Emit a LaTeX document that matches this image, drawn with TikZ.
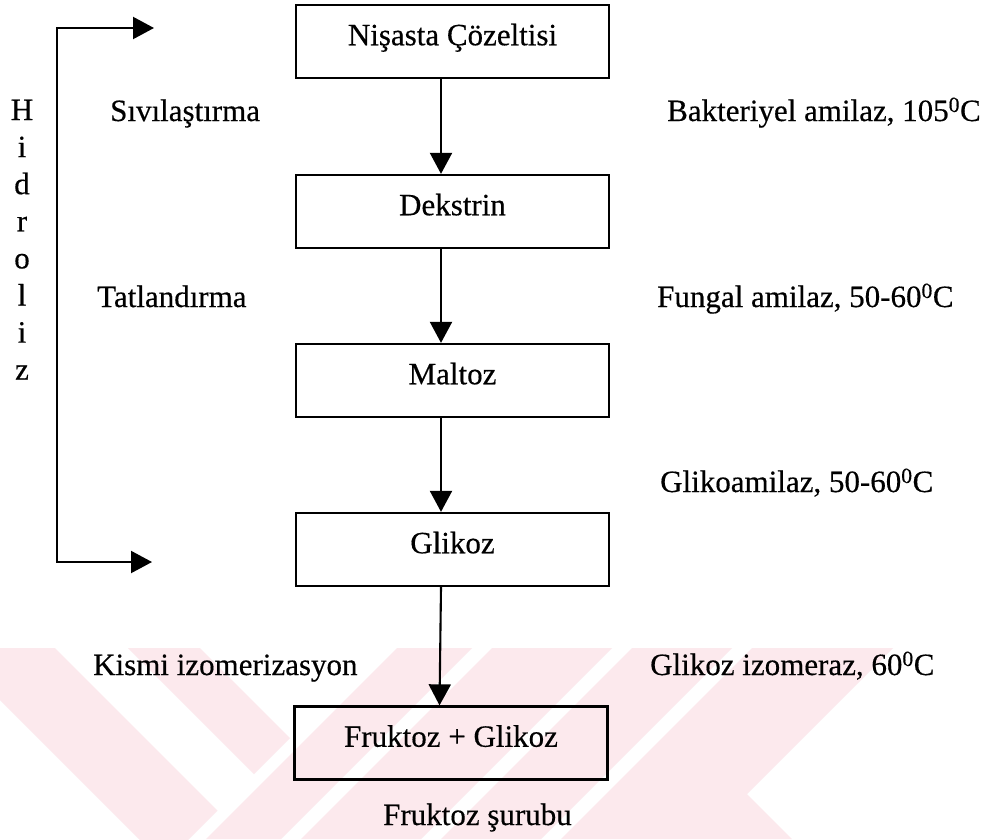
\documentclass[tikz,border=0pt]{standalone}
\usepackage{fontspec}
\setmainfont{Liberation Serif}[FakeBold=0.4]
\usetikzlibrary{arrows.meta}
\definecolor{wmpink}{RGB}{252,233,237}
\tikzset{
  stepbox/.style={draw, line width=2.3pt, minimum width=313pt, minimum height=73pt,
    inner sep=0pt, text height=20pt, text depth=12.5pt},
  flow/.style={line width=2.1pt, -{Triangle[length=21pt,width=22pt]}},
  lbl/.style={anchor=base west, inner sep=0pt},
  vletter/.style={anchor=base, inner sep=0pt},
  wm/.style={fill=wmpink, draw=none},
}
\begin{document}
\begin{tikzpicture}[x=1pt, y=-1pt, font=\fontsize{31}{37}\selectfont]
\useasboundingbox (0,0) rectangle (993,839);
\fill[white] (0,0) rectangle (993,839);

% faint striped emblem along the bottom edge
\begin{scope}
  \clip (0,648) rectangle (993,839);
  % left arm: bands running down to the right
  \fill[wm] (-52,648) -- (55,648) -- (217.5,810.5) -- (164,864) -- cycle;
  \fill[wm] (128,648) -- (200,648) -- (290,738) -- (254,774) -- cycle;
  % right arm: bands running down to the left
  \fill[wm] (397,648) -- (472,648) -- (281,839) -- (206,839) -- cycle;
  \fill[wm] (492,648) -- (612,648) -- (421,839) -- (301,839) -- cycle;
  \fill[wm] (632,648) -- (732,648) -- (541,839) -- (441,839) -- cycle;
  \fill[wm] (752,648) -- (893,648) -- (747,794) -- (792,839) -- (561,839) -- cycle;
\end{scope}

% process steps
\node[stepbox] (s1) at (452.5,41.5) {Nişasta Çözeltisi};
\node[stepbox] (s2) at (452.5,211.5) {Dekstrin};
\node[stepbox] (s3) at (452.5,380.5) {Maltoz};
\node[stepbox] (s4) at (452.5,549.5) {Glikoz};
\node[stepbox] (s5) at (451,743) {Fruktoz + Glikoz};

\foreach \a/\b in {s1/s2, s2/s3, s3/s4, s4/s5}
  \draw[flow] ([xshift=-11.5pt]\a.south) -- ([xshift=-11.5pt]\b.north);

% hydrolysis bracket
\coordinate (bt) at (57,28);
\coordinate (bb) at (57,562);
\coordinate (ht) at (154,28);
\coordinate (hb) at (152,562);
\draw[line width=2.1pt, line join=miter, {Triangle[length=21pt,width=22pt]}-{Triangle[length=21pt,width=22pt]}]
  (ht) -- (bt) -- (bb) -- (hb);

\foreach \ch [count=\k from 0] in {H,i,d,r,o,l,i,z}
  \node[vletter] (hl\k) at (22,120+37.1*\k) {\ch};

% stage names and enzymes
\node[lbl] (sivi) at (110,121) {Sıvılaştırma};
\node[lbl] (bakt) at (667,121) {Bakteriyel amilaz, 105\textsuperscript{0}C};
\node[lbl] (tatl) at (97,307) {Tatlandırma};
\node[lbl] (fung) at (657,307) {Fungal amilaz, 50-60\textsuperscript{0}C};
\node[lbl] (glam) at (660,492) {Glikoamilaz, 50-60\textsuperscript{0}C};
\node[lbl] (kism) at (93,675) {Kismi izomerizasyon};
\node[lbl] (gliz) at (650,675) {Glikoz izomeraz, 60\textsuperscript{0}C};
\node[lbl] (fsur) at (383,825) {Fruktoz şurubu};
\end{tikzpicture}
\end{document}
